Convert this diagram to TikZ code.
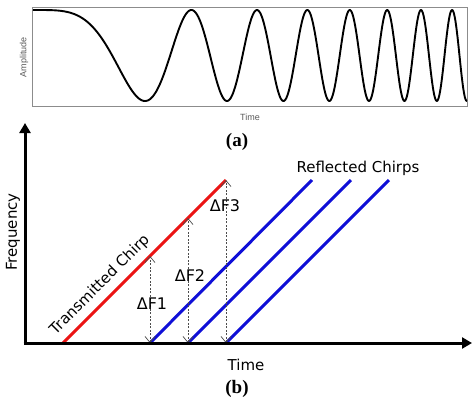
\documentclass[tikz,border=0pt]{standalone}
\usepackage{fontspec}
\usetikzlibrary{arrows.meta}
\newfontfamily\dvsans{DejaVu Sans}
\newfontfamily\lsans{Liberation Sans}
\newfontfamily\lserif{Liberation Serif}
\definecolor{chirpred}{RGB}{235,20,20}
\definecolor{chirpblue}{RGB}{15,15,215}
\tikzset{
  axisline/.style={line width=3pt,-{Triangle[width=11pt,length=10pt]}},
  txchirp/.style={line width=3pt,chirpred},
  rxchirp/.style={line width=3pt,chirpblue},
  dfarrow/.style={line width=0.7pt,black!70,dash pattern=on 2pt off 1.5pt,
    {Straight Barb[length=6pt,width=10pt]}-{Straight Barb[length=6pt,width=10pt]}},
  lbl/.style={font=\dvsans\fontsize{15}{18}\selectfont,inner sep=0pt},
  dlbl/.style={font=\dvsans\fontsize{16}{19}\selectfont,inner sep=0pt},
  smalllbl/.style={font=\lsans\fontsize{9}{10}\selectfont,text=black!65,inner sep=0pt},
  captext/.style={font=\lserif\bfseries\fontsize{19}{22}\selectfont,inner sep=0pt},
}
\begin{document}
\begin{tikzpicture}[x=1pt,y=-1pt]
\useasboundingbox (0,0) rectangle (472,402);
% ---------- panel (a)
\node[draw=black!45,line width=0.8pt,minimum width=435pt,minimum height=99pt,inner sep=0pt,anchor=north west] (box) at (32,7) {};
\draw[line width=1.9pt,black,line join=round] (33,10) -- plot[domain=33:467,samples=600] (\x,{55.5-45.5*cos(180*((\x-33)/112)^2)});
\node[smalllbl,rotate=90] (amp) at (24,57) {Amplitude};
\node[smalllbl] (ta) at (250,117) {Time};
\node[captext] (capa) at (237,142) {(a)};
% ---------- panel (b)
\coordinate (O) at (25,343);
\coordinate (Ytip) at (25,123);
\coordinate (Xtip) at (472,343);
\coordinate (R0) at (63,343);
\coordinate (R1) at (226,180);
\coordinate (B1a) at (150,343);
\coordinate (B1b) at (312,180);
\coordinate (B2a) at (188,343);
\coordinate (B2b) at (351,180);
\coordinate (B3a) at (226,343);
\coordinate (B3b) at (389,180);
\coordinate (T1) at (150,256);
\coordinate (T2) at (188,218);
\draw[txchirp] (R0) -- (R1);
\draw[rxchirp] (B1a) -- (B1b);
\draw[rxchirp] (B2a) -- (B2b);
\draw[rxchirp] (B3a) -- (B3b);
\draw[dfarrow] (B1a) -- (T1);
\draw[dfarrow] (B2a) -- (T2);
\draw[dfarrow] (B3a) -- (R1);
\draw[axisline] (25,344.5) -- (Ytip);
\draw[axisline] (23.5,343) -- (Xtip);
\node[lbl,rotate=90] (freq) at (13,232) {Frequency};
\node[lbl] (tb) at (246,365) {Time};
\node[captext] (capb) at (237,389) {(b)};
\node[dlbl] (df1) at (152,304) {ΔF1};
\node[dlbl] (df2) at (190,276) {ΔF2};
\node[dlbl] (df3) at (225,206) {ΔF3};
\node[lbl,rotate=45] (tx) at (100,285) {Transmitted Chirp};
\node[lbl] (rx) at (358,168) {Reflected Chirps};
\end{tikzpicture}
\end{document}
